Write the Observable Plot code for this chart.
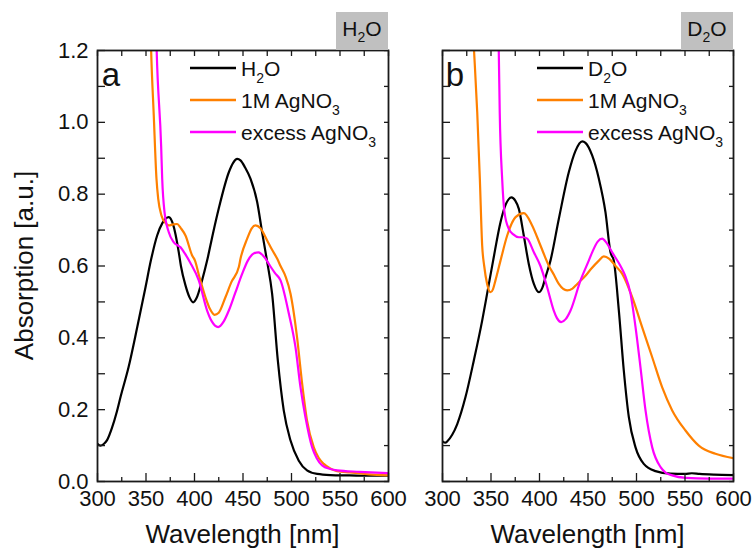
<!DOCTYPE html>
<html>
<head>
<meta charset="utf-8">
<script src="https://cdn.jsdelivr.net/npm/d3@7"></script>
<script src="https://cdn.jsdelivr.net/npm/@observablehq/plot@0.6"></script>
<style>
  html, body { margin: 0; padding: 0; background: #fff; }
  #chart { position: relative; width: 752px; height: 550px; overflow: hidden; font-family: "Liberation Sans", Arial, sans-serif; }
  #chart svg { position: absolute; top: 0; overflow: visible; }
</style>
</head>
<body>
<div id="chart"></div>
<script>
// ---------- tick values ----------
const xMajorTicks = [300, 350, 400, 450, 500, 550, 600];
const xMinorTicks = [325, 375, 425, 475, 525, 575];
const xAllTicks = [300, 325, 350, 375, 400, 425, 450, 475, 500, 525, 550, 575, 600];
const yLabelTicks = [0, 0.2, 0.4, 0.6, 0.8, 1.0, 1.2];
const yAllTicks = [0, 0.1, 0.2, 0.3, 0.4, 0.5, 0.6, 0.7, 0.8, 0.9, 1.0, 1.1, 1.2];

// ---------- panel a (H2O) ----------
const aWaterWl  = [300, 303, 307, 310, 315, 320, 324, 332, 341, 349.5, 355, 361.5, 367, 373.5, 378, 383.8, 386, 390.7, 395, 398.6, 402, 407.8, 413, 419, 425, 435.4, 440, 444, 447.4, 452, 457.7, 464.6, 469.7, 474.9, 480, 485.9, 492, 499, 507.5, 516, 526.5, 540, 560, 580, 600];
const aWaterAbs = [0.105, 0.100, 0.106, 0.116, 0.150, 0.195, 0.238, 0.318, 0.430, 0.541, 0.615, 0.685, 0.720, 0.736, 0.715, 0.638, 0.600, 0.546, 0.512, 0.499, 0.510, 0.560, 0.615, 0.690, 0.760, 0.861, 0.888, 0.898, 0.894, 0.875, 0.843, 0.778, 0.694, 0.612, 0.523, 0.337, 0.198, 0.114, 0.058, 0.031, 0.021, 0.018, 0.017, 0.016, 0.016];

const aSilverWl  = [354.8, 355.3, 358, 360.8, 362.6, 366, 370, 373.5, 378, 382, 386, 390.7, 397.6, 400.5, 405, 411.3, 416, 420.6, 425, 431.9, 438, 445.7, 447.4, 454.3, 459, 462.9, 468, 474.9, 480, 485.3, 488.7, 494, 499, 505.8, 511, 516, 523, 528, 533.3, 540, 547, 560, 580, 600];
const aSilverAbs = [1.25, 1.20, 1.02, 0.843, 0.787, 0.740, 0.720, 0.713, 0.716, 0.717, 0.705, 0.685, 0.629, 0.615, 0.570, 0.513, 0.480, 0.464, 0.470, 0.513, 0.555, 0.597, 0.620, 0.676, 0.705, 0.713, 0.705, 0.671, 0.645, 0.620, 0.600, 0.570, 0.523, 0.400, 0.272, 0.170, 0.095, 0.066, 0.049, 0.036, 0.029, 0.025, 0.020, 0.017];

const aExcessWl  = [360.5, 361, 365.6, 366.7, 369.1, 373.5, 378.7, 385.6, 390, 395.5, 404.4, 413, 418, 424.4, 430, 435.4, 442, 449.1, 455, 461, 466, 472, 478, 483, 488.7, 497.3, 504.1, 509.3, 514.4, 521.3, 526, 531.6, 540, 547, 570, 600];
const aExcessAbs = [1.25, 1.20, 0.935, 0.843, 0.750, 0.694, 0.666, 0.652, 0.635, 0.610, 0.560, 0.476, 0.445, 0.430, 0.445, 0.476, 0.525, 0.578, 0.615, 0.635, 0.638, 0.625, 0.600, 0.580, 0.560, 0.467, 0.374, 0.262, 0.179, 0.095, 0.065, 0.045, 0.035, 0.031, 0.027, 0.023];

// ---------- panel b (D2O) ----------
const bWaterWl  = [300, 303, 305, 310, 315.2, 323.7, 332.3, 340.9, 346, 352.2, 359.8, 365, 371.1, 375, 378.7, 383.8, 389, 394.2, 399.3, 403, 406.2, 411.3, 419.9, 430.2, 437, 444, 447.4, 454.3, 461.2, 468, 473.2, 476.6, 481.8, 486.9, 492.1, 499, 507.5, 519.6, 535, 550, 557, 565, 580, 600];
const bWaterAbs = [0.112, 0.108, 0.112, 0.130, 0.160, 0.235, 0.337, 0.448, 0.523, 0.615, 0.722, 0.770, 0.791, 0.782, 0.759, 0.685, 0.605, 0.550, 0.527, 0.540, 0.569, 0.615, 0.731, 0.861, 0.920, 0.947, 0.943, 0.908, 0.843, 0.750, 0.638, 0.615, 0.476, 0.309, 0.179, 0.095, 0.049, 0.029, 0.022, 0.021, 0.023, 0.021, 0.019, 0.018];

const bSilverWl  = [331.5, 332.5, 335.8, 338.5, 340.9, 343, 346, 349.5, 352, 354.6, 359.8, 366.7, 375.3, 383.8, 392.4, 401, 409.6, 415, 419.9, 428.5, 434, 438.9, 447.4, 452.6, 461.2, 466.3, 472, 478.4, 485.3, 495.6, 505.8, 516.2, 526.5, 536.8, 550.5, 564.2, 581.4, 600];
const bSilverAbs = [1.25, 1.20, 1.028, 0.843, 0.657, 0.600, 0.550, 0.527, 0.535, 0.560, 0.615, 0.685, 0.736, 0.747, 0.713, 0.657, 0.601, 0.575, 0.550, 0.532, 0.537, 0.550, 0.573, 0.590, 0.615, 0.627, 0.620, 0.600, 0.578, 0.513, 0.430, 0.346, 0.262, 0.198, 0.142, 0.100, 0.077, 0.065];

const bExcessWl  = [357.5, 358, 359, 361.5, 363.9, 368.4, 373, 378.7, 383, 387.3, 394.2, 401, 407.9, 414.7, 418, 422.4, 427, 432, 442.3, 450.8, 454.3, 460, 464.6, 469, 474.9, 483.5, 488, 493.8, 499, 504.1, 509.3, 516.2, 524.8, 530, 536.8, 550.5, 575, 600];
const bExcessAbs = [1.25, 1.20, 1.028, 0.843, 0.750, 0.703, 0.688, 0.680, 0.680, 0.676, 0.638, 0.600, 0.541, 0.476, 0.455, 0.444, 0.452, 0.476, 0.560, 0.615, 0.638, 0.668, 0.676, 0.665, 0.638, 0.600, 0.575, 0.523, 0.430, 0.318, 0.198, 0.095, 0.040, 0.025, 0.017, 0.010, 0.008, 0.008];

const seriesColors = ["#000000", "#FF8000", "#FF00FF"];
const FONT = "Liberation Sans, Arial, Helvetica, sans-serif";
const AXC = "#1a1a1a";

function toRows(wl, abs) { return wl.map((w, i) => ({wl: w, abs: abs[i]})); }

function makePanel({series, width, marginLeft, marginRight, showYLabels}) {
  const lineMarks = series.map((s, i) =>
    Plot.lineY(toRows(s[0], s[1]), {x: "wl", y: "abs", stroke: seriesColors[i], strokeWidth: 2.2, curve: "monotone-x", clip: true}));
  const marks = [
    ...lineMarks,
    Plot.axisX(xMajorTicks, {anchor: "bottom", tickSize: -8, text: null, label: null, stroke: AXC, strokeWidth: 1.3}),
    Plot.axisX(xMinorTicks, {anchor: "bottom", tickSize: -4, text: null, label: null, stroke: AXC, strokeWidth: 1.3}),
    Plot.axisX(xMajorTicks, {anchor: "bottom", tickSize: 0, tickPadding: 9, label: null, fontSize: 22, fill: "#111"}),
    Plot.axisX(xAllTicks, {anchor: "top", tickSize: -5, text: null, label: null, stroke: AXC, strokeWidth: 1.3}),
    Plot.axisY(yAllTicks, {anchor: "left", tickSize: -8, text: null, label: null, stroke: AXC, strokeWidth: 1.3}),
    Plot.axisY(yAllTicks, {anchor: "right", tickSize: -5, text: null, label: null, stroke: AXC, strokeWidth: 1.3}),
    Plot.frame({stroke: AXC, strokeWidth: 1.8})
  ];
  if (showYLabels) {
    marks.push(Plot.axisY(yLabelTicks, {anchor: "left", tickSize: 0, tickPadding: 9, label: null, tickFormat: d3.format(".1f"), fontSize: 22, fill: "#111"}));
  }
  return Plot.plot({
    width, height: 550,
    marginTop: 50, marginBottom: 69, marginLeft, marginRight,
    x: {domain: [300, 600]},
    y: {domain: [0, 1.2]},
    style: {fontFamily: FONT, background: "transparent", color: "#111", overflow: "visible"},
    marks
  });
}

function addSubText(sel, x, y, parts, size, subSize, subShift, anchor) {
  const t = sel.append("text").attr("x", x).attr("y", y)
    .attr("font-family", FONT).attr("font-size", size).attr("fill", "#111")
    .attr("text-anchor", anchor || "start");
  let shifted = false;
  parts.forEach(p => {
    const ts = t.append("tspan").text(p.t);
    if (p.sub) { ts.attr("font-size", subSize).attr("dy", subShift); shifted = true; }
    else if (shifted) { ts.attr("dy", -subShift); shifted = false; }
  });
  return t;
}

function decorate(svg, cfg) {
  const s = d3.select(svg);
  const g = s.append("g");
  // gray solvent box
  g.append("rect").attr("x", cfg.boxX).attr("y", 12).attr("width", 52).attr("height", 38).attr("fill", "#c0c0c0");
  addSubText(g, cfg.boxX + 26, 36, cfg.boxLabel, 21, 14, 6, "middle");
  // panel letter
  g.append("text").attr("x", cfg.letterX).attr("y", 86).attr("font-family", FONT).attr("font-size", 33).attr("fill", "#111").text(cfg.letter);
  // legend
  cfg.legend.forEach((parts, i) => {
    const y = 68 + i * 32;
    g.append("line").attr("x1", cfg.legX0).attr("x2", cfg.legX1).attr("y1", y).attr("y2", y)
      .attr("stroke", seriesColors[i]).attr("stroke-width", 2.4);
    addSubText(g, cfg.legText, y + 7.5, parts, 21, 14, 7);
  });
  // x axis title
  g.append("text").attr("x", cfg.xTitleX).attr("y", 543).attr("text-anchor", "middle")
    .attr("font-family", FONT).attr("font-size", 26).attr("fill", "#111").text("Wavelength [nm]");
  if (cfg.yTitle) {
    g.append("text").attr("transform", "translate(33,265.5) rotate(-90)").attr("text-anchor", "middle")
      .attr("font-family", FONT).attr("font-size", 26).attr("fill", "#111").text("Absorption [a.u.]");
  }
}

const chart = document.getElementById("chart");

const svgA = makePanel({
  series: [[aWaterWl, aWaterAbs], [aSilverWl, aSilverAbs], [aExcessWl, aExcessAbs]],
  width: 400, marginLeft: 97, marginRight: 12, showYLabels: true
});
svgA.style.left = "0px";
chart.appendChild(svgA);
decorate(svgA, {
  boxX: 336, boxLabel: [{t: "H"}, {t: "2", sub: true}, {t: "O"}],
  letter: "a", letterX: 111,
  legX0: 190, legX1: 236, legText: 241,
  legend: [
    [{t: "H"}, {t: "2", sub: true}, {t: "O"}],
    [{t: "1M AgNO"}, {t: "3", sub: true}],
    [{t: "excess AgNO"}, {t: "3", sub: true}]
  ],
  xTitleX: 242.5, yTitle: true
});

const svgB = makePanel({
  series: [[bWaterWl, bWaterAbs], [bSilverWl, bSilverAbs], [bExcessWl, bExcessAbs]],
  width: 352, marginLeft: 42, marginRight: 19, showYLabels: false
});
svgB.style.left = "400px";
chart.appendChild(svgB);
decorate(svgB, {
  boxX: 281, boxLabel: [{t: "D"}, {t: "2", sub: true}, {t: "O"}],
  letter: "b", letterX: 55,
  legX0: 137, legX1: 183, legText: 188,
  legend: [
    [{t: "D"}, {t: "2", sub: true}, {t: "O"}],
    [{t: "1M AgNO"}, {t: "3", sub: true}],
    [{t: "excess AgNO"}, {t: "3", sub: true}]
  ],
  xTitleX: 187.5, yTitle: false
});
</script>
</body>
</html>
